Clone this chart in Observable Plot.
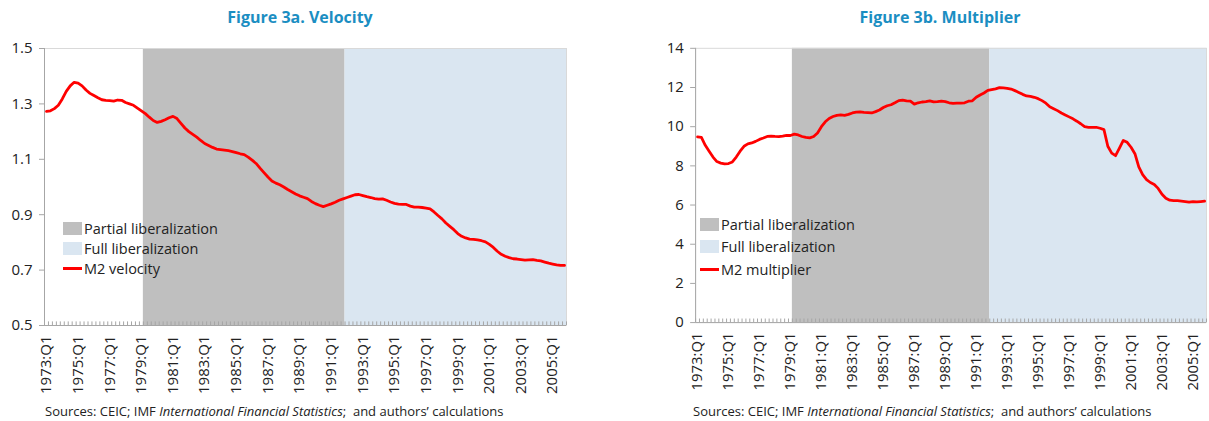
<!DOCTYPE html>
<html><head><meta charset="utf-8">
<script src="https://cdn.jsdelivr.net/npm/d3@7"></script>
<script src="https://cdn.jsdelivr.net/npm/@observablehq/plot@0.6"></script>
<style>
html,body{margin:0;padding:0;background:#fff;overflow:hidden;}
#wrap{position:relative;width:1209px;height:421px;font-family:"Open Sans",sans-serif;color:#222;}
.title{position:absolute;top:6px;transform:translateX(-50%);white-space:nowrap;color:#1b8ec2;font-weight:bold;font-size:16px;}
.chart{position:absolute;top:30px;}
.caption{position:absolute;top:402px;font-size:13px;color:#222;white-space:nowrap;}
.legend{position:absolute;font-size:14.5px;color:#222;}
.legend .row{display:flex;align-items:center;white-space:nowrap}
.sw{display:inline-block;width:19px;height:13px;margin-right:2px}
.ln{display:inline-block;width:19px;height:3px;background:#f00;margin-right:2px}
</style></head><body><div id="wrap"></div>
<script>
const years = d3.range(1973, 2006);
const quarters = years.flatMap(y => [1, 2, 3, 4].map(q => `${y}:Q${q}`));
const xTickLabels = years.filter((y, i) => i % 2 === 0).map(y => `${y}:Q1`);

const velocity = [
  1.273, 1.275, 1.283, 1.295, 1.318, 1.345, 1.365, 1.378,
  1.375, 1.365, 1.350, 1.338, 1.330, 1.322, 1.315, 1.313,
  1.312, 1.310, 1.314, 1.313, 1.305, 1.300, 1.295, 1.285,
  1.275, 1.265, 1.252, 1.240, 1.233, 1.237, 1.243, 1.250,
  1.255, 1.247, 1.230, 1.213, 1.200, 1.190, 1.180, 1.168,
  1.157, 1.150, 1.143, 1.137, 1.135, 1.133, 1.131, 1.128,
  1.124, 1.120, 1.117, 1.108, 1.097, 1.085, 1.068, 1.052,
  1.036, 1.022, 1.014, 1.008, 1.000, 0.991, 0.983, 0.975,
  0.968, 0.963, 0.958, 0.948, 0.940, 0.934, 0.929, 0.934,
  0.939, 0.945, 0.952, 0.957, 0.962, 0.967, 0.972, 0.973,
  0.969, 0.965, 0.962, 0.958, 0.956, 0.957, 0.952, 0.946,
  0.941, 0.938, 0.937, 0.937, 0.931, 0.927, 0.927, 0.926,
  0.924, 0.921, 0.910, 0.897, 0.885, 0.870, 0.858, 0.846,
  0.832, 0.822, 0.816, 0.812, 0.811, 0.809, 0.806, 0.802,
  0.793, 0.782, 0.768, 0.757, 0.750, 0.745, 0.741, 0.740,
  0.738, 0.736, 0.737, 0.738, 0.735, 0.733, 0.729, 0.725,
  0.722, 0.719, 0.717, 0.717
];
const multiplier = [
  9.48, 9.45, 9.05, 8.75, 8.45, 8.22, 8.14, 8.10,
  8.12, 8.20, 8.45, 8.75, 9.00, 9.12, 9.17, 9.25,
  9.35, 9.42, 9.50, 9.52, 9.50, 9.49, 9.52, 9.56,
  9.55, 9.62, 9.58, 9.50, 9.45, 9.43, 9.50, 9.68,
  10.00, 10.25, 10.42, 10.52, 10.58, 10.60, 10.58, 10.63,
  10.70, 10.74, 10.75, 10.73, 10.72, 10.70, 10.77, 10.85,
  10.98, 11.07, 11.12, 11.22, 11.33, 11.36, 11.32, 11.30,
  11.15, 11.22, 11.26, 11.28, 11.32, 11.27, 11.28, 11.30,
  11.28, 11.22, 11.19, 11.20, 11.20, 11.22, 11.30, 11.32,
  11.50, 11.62, 11.72, 11.85, 11.89, 11.93, 11.99, 11.98,
  11.96, 11.92, 11.84, 11.75, 11.65, 11.57, 11.55, 11.50,
  11.43, 11.33, 11.20, 11.02, 10.92, 10.82, 10.70, 10.60,
  10.50, 10.40, 10.28, 10.15, 10.00, 9.97, 9.97, 9.97,
  9.92, 9.85, 9.00, 8.65, 8.52, 8.90, 9.30, 9.20,
  8.95, 8.62, 7.95, 7.55, 7.30, 7.15, 7.05, 6.85,
  6.55, 6.35, 6.25, 6.23, 6.22, 6.20, 6.18, 6.15,
  6.18, 6.16, 6.18, 6.20
];
const partialPeriod = ["1979:Q2", "1991:Q4"];
const fullPeriod = ["1992:Q1", "2005:Q4"];
const velocityTicks = [0.5, 0.7, 0.9, 1.1, 1.3, 1.5];
const multiplierTicks = [0, 2, 4, 6, 8, 10, 12, 14];
const legendLabels = ["Partial liberalization", "Full liberalization"];
const caption = 'Sources: CEIC; IMF <i>International Financial Statistics</i>;&nbsp; and authors’ calculations';

const idx = q => quarters.indexOf(q);
const wrap = document.getElementById("wrap");

function panel({left, width, ml, mr, title, titleX, values, yDomain, yTicks, seriesName, legendLeft, legendTop, legendGap, captionLeft}) {
  const data = quarters.map((q, i) => ({i, q, v: values[i]}));
  const [y0, y1] = yDomain;
  const bounds = d3.range(0, quarters.length + 1).map(i => i - 0.5);
  const chart = Plot.plot({
    width, height: 370, marginTop: 18, marginBottom: 75, marginLeft: ml, marginRight: mr,
    style: {fontFamily: "Open Sans", fontSize: "15px", color: "#222", background: "white", overflow: "visible"},
    x: {domain: [-0.5, quarters.length - 0.5], ticks: xTickLabels.map(idx), tickFormat: i => quarters[i],
        tickRotate: -90, tickSize: 0, tickPadding: 10, label: null},
    y: {domain: yDomain, ticks: yTicks, tickSize: 5, tickPadding: 7, label: null},
    marks: [
      Plot.rectY([partialPeriod], {x1: d => idx(d[0]) - 0.5, x2: d => idx(d[1]) + 0.5, y1: y0, y2: y1, fill: "#bfbfbf"}),
      Plot.rectY([fullPeriod], {x1: d => idx(d[0]) - 0.5, x2: d => idx(d[1]) + 0.5, y1: y0, y2: y1, fill: "#dae6f1"}),
      Plot.frame({stroke: "#d9d9d9"}),
      Plot.ruleX(bounds, {x: d => d, y1: y0, y2: y0 + (y1 - y0) * 0.013, stroke: "#a6a6a6", strokeWidth: 1}),
      Plot.ruleY([y0], {stroke: "#a6a6a6"}),
      Plot.ruleX([-0.5], {stroke: "#a6a6a6"}),
      Plot.line(data, {x: "i", y: "v", stroke: "#ff0000", strokeWidth: 2.8})
    ]
  });
  chart.querySelectorAll('[aria-label^="y-axis"] line, [aria-label="y-axis tick"] path').forEach(e => e.setAttribute("stroke", "#a6a6a6"));
  chart.querySelectorAll('[aria-label^="x-axis"] text').forEach(e => e.style.fontSize = "15px");
  const holder = document.createElement("div");
  holder.className = "chart";
  holder.style.left = left + "px";
  holder.appendChild(chart);
  wrap.appendChild(holder);

  const t = document.createElement("div");
  t.className = "title"; t.style.left = titleX + "px"; t.textContent = title;
  wrap.appendChild(t);

  const lg = document.createElement("div");
  lg.className = "legend"; lg.style.left = legendLeft + "px"; lg.style.top = legendTop + "px";
  const rows = [
    `<span class="sw" style="background:#bfbfbf"></span>${legendLabels[0]}`,
    `<span class="sw" style="background:#dae6f1"></span>${legendLabels[1]}`,
    `<span class="ln"></span>${seriesName}`
  ];
  lg.innerHTML = rows.map(r => `<div class="row" style="height:${legendGap}px">${r}</div>`).join("");
  wrap.appendChild(lg);

  const c = document.createElement("div");
  c.className = "caption"; c.style.left = captionLeft + "px"; c.innerHTML = caption;
  wrap.appendChild(c);
}

panel({left: 0, width: 605, ml: 44, mr: 39, title: "Figure 3a. Velocity", titleX: 300,
  values: velocity, yDomain: [0.5, 1.5], yTicks: velocityTicks, seriesName: "M2 velocity",
  legendLeft: 63, legendTop: 218, legendGap: 20, captionLeft: 45});
panel({left: 605, width: 610, ml: 91, mr: 3, title: "Figure 3b. Multiplier", titleX: 940,
  values: multiplier, yDomain: [0, 14], yTicks: multiplierTicks, seriesName: "M2 multiplier",
  legendLeft: 700, legendTop: 213, legendGap: 22.5, captionLeft: 693});
</script></body></html>
